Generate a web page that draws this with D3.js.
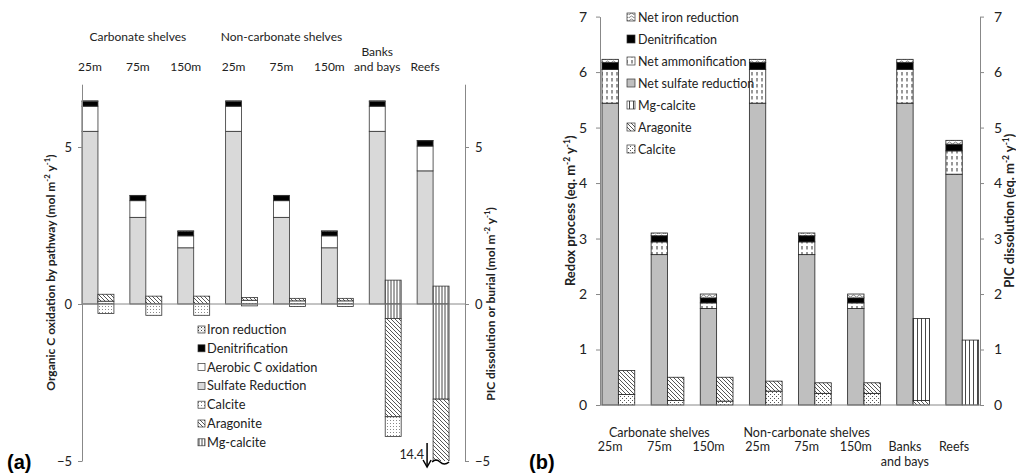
<!DOCTYPE html>
<html>
<head>
<meta charset="utf-8">
<script src="https://cdn.jsdelivr.net/npm/d3@7"></script>
<style>
  body { margin: 0; background: #fff; }
  svg { font-family: Lato, "Liberation Sans", sans-serif; }
</style>
</head>
<body>
<svg id="chart" width="1016" height="473"></svg>
<script>
// categories shared by both panels
const categories = ["25m", "75m", "150m", "25m", "75m", "150m", "Banks and bays", "Reefs"];
const groupLabels = ["Carbonate shelves", "Non-carbonate shelves"];

// panel (a) organic C oxidation, mol m-2 y-1
const aSulfate = [5.5, 2.76, 1.79, 5.5, 2.76, 1.79, 5.5, 4.24];
const aAerobic = [0.8, 0.53, 0.38, 0.8, 0.53, 0.38, 0.8, 0.79];
const aDenit = [0.16, 0.16, 0.15, 0.16, 0.16, 0.15, 0.16, 0.17];
const aIron = [0.01, 0.01, 0.01, 0.01, 0.01, 0.01, 0.01, 0.01];
// panel (a) PIC dissolution (positive) and burial (negative)
const aCalciteDiss = [0.09, 0, 0, 0.12, 0.1, 0.1, 0, 0];
const aAragoniteDiss = [0.22, 0.25, 0.25, 0.09, 0.08, 0.08, 0, 0];
const aMgDiss = [0, 0, 0, 0, 0, 0, 0.76, 0.57];
const aMgBur = [0, 0, 0, 0, 0, 0, -0.46, -3.03];
const aAragoniteBur = [0, 0, 0, 0, 0, 0, -3.13, -11.37];
const aCalciteBur = [-0.3, -0.36, -0.36, -0.06, -0.08, -0.08, -0.63, 0];
const aReefTotal = "14.4";

// panel (b) redox processes, eq. m-2 y-1
const bSulfate = [5.44, 2.71, 1.74, 5.44, 2.71, 1.74, 5.44, 4.16];
const bAmmon = [0.61, 0.23, 0.10, 0.61, 0.23, 0.10, 0.61, 0.42];
const bDenit = [0.12, 0.11, 0.09, 0.12, 0.11, 0.09, 0.12, 0.12];
const bIron = [0.06, 0.05, 0.07, 0.06, 0.05, 0.07, 0.06, 0.07];
// panel (b) PIC dissolution
const bCalcite = [0.19, 0.08, 0.07, 0.25, 0.21, 0.21, 0, 0];
const bAragonite = [0.43, 0.42, 0.43, 0.18, 0.19, 0.19, 0.08, 0];
const bMg = [0, 0, 0, 0, 0, 0, 1.48, 1.17];

const aTicks = [-5, 0, 5];
const bTicks = [0, 1, 2, 3, 4, 5, 6, 7];

const svg = d3.select("#chart");
const defs = svg.append("defs");

// fill patterns (Excel-like)
function pattern(id, w, h, draw) {
  const p = defs.append("pattern").attr("id", id)
    .attr("patternUnits", "userSpaceOnUse").attr("width", w).attr("height", h);
  p.append("rect").attr("width", w).attr("height", h).attr("fill", "#fff");
  draw(p);
}
pattern("calcite", 3, 3, p => {
  p.append("rect").attr("x", 0).attr("y", 0).attr("width", 1).attr("height", 1).attr("fill", "#888");
});
pattern("calciteB", 4, 4, p => {
  p.append("rect").attr("x", 0).attr("y", 0).attr("width", 1).attr("height", 1).attr("fill", "#555");
  p.append("rect").attr("x", 2).attr("y", 2).attr("width", 1).attr("height", 1).attr("fill", "#555");
});
pattern("aragonite", 4, 4, p => {
  p.append("path").attr("d", "M-1,-1L5,5M-1,3L1,5M3,-1L5,1")
    .attr("stroke", "#444").attr("stroke-width", 0.9);
});
pattern("mgcalcite", 3, 3, p => {
  p.append("line").attr("x1", 1).attr("x2", 1).attr("y1", 0).attr("y2", 3)
    .attr("stroke", "#333").attr("stroke-width", 0.9);
});
pattern("mgcalciteB", 4, 4, p => {
  p.append("line").attr("x1", 1.5).attr("x2", 1.5).attr("y1", 0).attr("y2", 4)
    .attr("stroke", "#333").attr("stroke-width", 0.9);
});
pattern("ironA", 3, 3, p => {
  p.append("rect").attr("width", 1).attr("height", 1).attr("fill", "#444");
  p.append("rect").attr("x", 1.5).attr("y", 1.5).attr("width", 1).attr("height", 1).attr("fill", "#999");
});
pattern("ironB", 6, 3, p => {
  p.append("path").attr("d", "M0,2Q1.5,0 3,2T6,2").attr("fill", "none")
    .attr("stroke", "#666").attr("stroke-width", 0.8);
});
pattern("ammon", 5, 6, p => {
  p.append("line").attr("x1", 2).attr("x2", 2).attr("y1", 0).attr("y2", 3.5)
    .attr("stroke", "#333").attr("stroke-width", 1);
});

const fmtFont = (sel, size) => sel.attr("font-size", size).attr("fill", "#222");

function stackRows(series, keys) {
  return categories.map((c, i) => {
    const row = { i: i };
    keys.forEach((k, j) => row[k] = series[j][i]);
    return row;
  });
}

function styleAxis(a, size) {
  a.select(".domain").attr("stroke", "#888");
  a.selectAll(".tick line").attr("stroke", "#888");
  a.selectAll(".tick text").attr("font-size", size).attr("fill", "#222").attr("font-family", "Lato");
}

function vTitle(g, x, y, parts, size) {
  const t = g.append("text").attr("transform", `translate(${x},${y}) rotate(-90)`)
    .attr("text-anchor", "middle").attr("font-weight", "bold").attr("font-size", size).attr("fill", "#222");
  parts.forEach(p => {
    const ts = t.append("tspan").text(p[0]);
    if (p[1]) ts.attr("baseline-shift", "super").attr("font-size", size * 0.65);
  });
}

// ---------------- panel (a) ----------------
const xA = d3.scaleBand().domain(d3.range(categories.length)).range([82, 465]);
const yA = d3.scaleLinear().domain([-5, 7]).range([461, 84.2]);
const wA = xA.bandwidth() / 3;

const gA = svg.append("g");

// organic bars
const orgKeysA = ["sulfate", "aerobic", "denit", "iron"];
const orgFillA = { sulfate: "#d9d9d9", aerobic: "#fff", denit: "#000", iron: "url(#ironA)" };
const orgStackA = d3.stack().keys(orgKeysA)(stackRows([aSulfate, aAerobic, aDenit, aIron], orgKeysA));
orgStackA.forEach(s => {
  gA.selectAll(null).data(s).join("rect")
    .attr("x", d => xA(d.data.i))
    .attr("width", wA)
    .attr("y", d => yA(d[1]))
    .attr("height", d => yA(d[0]) - yA(d[1]))
    .attr("fill", orgFillA[s.key])
    .attr("stroke", "#333").attr("stroke-width", 0.8);
});

// PIC bars, clipped to the axis range
gA.append("clipPath").attr("id", "clipA").append("rect")
  .attr("x", 82).attr("y", yA(7)).attr("width", 383).attr("height", yA(-5) - yA(7));
const picA = gA.append("g").attr("clip-path", "url(#clipA)");
const picFillA = { calcite: "url(#calcite)", aragonite: "url(#aragonite)", mg: "url(#mgcalcite)" };
const posKeys = ["calcite", "aragonite", "mg"];
const negKeys = ["mg", "aragonite", "calcite"];
const posStack = d3.stack().keys(posKeys)(stackRows([aCalciteDiss, aAragoniteDiss, aMgDiss], posKeys));
const negStack = d3.stack().keys(negKeys)(stackRows([aMgBur, aAragoniteBur, aCalciteBur], negKeys));
[...posStack, ...negStack].forEach(s => {
  picA.selectAll(null).data(s.filter(d => d[0] !== d[1])).join("rect")
    .attr("x", d => xA(d.data.i) + wA)
    .attr("width", wA)
    .attr("y", d => yA(Math.max(d[0], d[1])))
    .attr("height", d => Math.abs(yA(d[0]) - yA(d[1])))
    .attr("fill", picFillA[s.key])
    .attr("stroke", "#333").attr("stroke-width", 0.8);
});

// broken-bar marker for reefs
const reefX = xA(7) + wA;
gA.append("path")
  .attr("d", `M${reefX - 1},${yA(-5) + 1}q4,-4 8,0t9,0`)
  .attr("fill", "none").attr("stroke", "#000").attr("stroke-width", 1.5);
gA.append("line").attr("x1", reefX - 6).attr("x2", reefX - 6)
  .attr("y1", yA(-5) - 18).attr("y2", yA(-5) + 5)
  .attr("stroke", "#000").attr("stroke-width", 1.5);
gA.append("path")
  .attr("d", `M${reefX - 10},${yA(-5) - 1}L${reefX - 6},${yA(-5) + 6}L${reefX - 2},${yA(-5) - 1}`)
  .attr("fill", "none").attr("stroke", "#000").attr("stroke-width", 1.5);
gA.append("text").attr("x", reefX - 9).attr("y", yA(-5) - 2)
  .attr("text-anchor", "end").call(fmtFont, 12.5).text(aReefTotal);

// zero line and axes
gA.append("line").attr("x1", 82).attr("x2", 465).attr("y1", yA(0)).attr("y2", yA(0))
  .attr("stroke", "#888");
const axA1 = gA.append("g").attr("transform", "translate(82,0)")
  .call(d3.axisLeft(yA).tickValues(aTicks).tickFormat(d3.format("d")).tickSize(4).tickSizeOuter(0).tickPadding(6));
const axA2 = gA.append("g").attr("transform", "translate(465,0)")
  .call(d3.axisRight(yA).tickValues(aTicks).tickFormat(d3.format("d")).tickSize(4).tickSizeOuter(0).tickPadding(6));
styleAxis(axA1, 13);
styleAxis(axA2, 13);

// category labels on top
categories.forEach((c, i) => {
  const cx = xA(i) + wA / 2;
  const parts = c === "Banks and bays" ? ["Banks", "and bays"] : [c];
  parts.forEach((t, k) => {
    gA.append("text").attr("x", cx).attr("y", 71 - (parts.length - 1 - k) * 15)
      .attr("text-anchor", "middle").call(fmtFont, 12).text(t);
  });
});
groupLabels.forEach((g, k) => {
  const cx = (xA(k * 3) + xA(k * 3 + 2)) / 2 + wA / 2;
  gA.append("text").attr("x", cx).attr("y", 41).attr("text-anchor", "middle")
    .call(fmtFont, 12).text(g);
});

// axis titles
vTitle(gA, 55, (yA(-5) + yA(7)) / 2, [["Organic C oxidation by pathway (mol m"], ["-2", 1], [" y"], ["-1", 1], [")"]], 12);
vTitle(gA, 495, yA(0), [["PIC dissolution or burial (mol m"], ["-2", 1], [" y"], ["-1", 1], [")"]], 12);

// legend (a)
const legA = [
  ["Iron reduction", "url(#ironA)"], ["Denitrification", "#000"], ["Aerobic C oxidation", "#fff"],
  ["Sulfate Reduction", "#d9d9d9"], ["Calcite", "url(#calcite)"], ["Aragonite", "url(#aragonite)"],
  ["Mg-calcite", "url(#mgcalcite)"]
];
legA.forEach((d, k) => {
  const y = 330 + k * 18.8;
  gA.append("rect").attr("x", 198).attr("y", y - 4).attr("width", 7).attr("height", 7)
    .attr("fill", d[1]).attr("stroke", "#333").attr("stroke-width", 0.7);
  gA.append("text").attr("x", 207).attr("y", y + 4).call(fmtFont, 12.8).text(d[0]);
});

svg.append("text").attr("x", 7).attr("y", 469).attr("font-family", "Liberation Sans, Arial")
  .attr("font-weight", "bold").attr("font-size", 20).text("(a)");

// ---------------- panel (b) ----------------
const xB = d3.scaleBand().domain(d3.range(categories.length)).range([602, 995]);
const yB = d3.scaleLinear().domain([0, 7]).range([405, 16.6]);
const wB = xB.bandwidth() / 3;
const gB = svg.append("g");

const orgKeysB = ["sulfate", "ammon", "denit", "iron"];
const orgFillB = { sulfate: "#bfbfbf", ammon: "url(#ammon)", denit: "#000", iron: "url(#ironB)" };
const orgStackB = d3.stack().keys(orgKeysB)(stackRows([bSulfate, bAmmon, bDenit, bIron], orgKeysB));
orgStackB.forEach(s => {
  gB.selectAll(null).data(s).join("rect")
    .attr("x", d => xB(d.data.i))
    .attr("width", wB)
    .attr("y", d => yB(d[1]))
    .attr("height", d => yB(d[0]) - yB(d[1]))
    .attr("fill", orgFillB[s.key])
    .attr("stroke", "#222").attr("stroke-width", 0.8);
});

const picFillB = { calcite: "url(#calciteB)", aragonite: "url(#aragonite)", mg: "url(#mgcalciteB)" };
const picStackB = d3.stack().keys(posKeys)(stackRows([bCalcite, bAragonite, bMg], posKeys));
picStackB.forEach(s => {
  gB.selectAll(null).data(s.filter(d => d[0] !== d[1])).join("rect")
    .attr("x", d => xB(d.data.i) + wB)
    .attr("width", wB)
    .attr("y", d => yB(d[1]))
    .attr("height", d => yB(d[0]) - yB(d[1]))
    .attr("fill", picFillB[s.key])
    .attr("stroke", "#222").attr("stroke-width", 0.8);
});

gB.append("line").attr("x1", 600).attr("x2", 980).attr("y1", yB(0)).attr("y2", yB(0))
  .attr("stroke", "#888");
const axB1 = gB.append("g").attr("transform", "translate(600,0)")
  .call(d3.axisLeft(yB).tickValues(bTicks).tickFormat(d3.format("d")).tickSize(4).tickSizeOuter(0).tickPadding(9));
const axB2 = gB.append("g").attr("transform", "translate(980,0)")
  .call(d3.axisRight(yB).tickValues(bTicks).tickFormat(d3.format("d")).tickSize(4).tickSizeOuter(0).tickPadding(10));
styleAxis(axB1, 14);
styleAxis(axB2, 14);

categories.forEach((c, i) => {
  const cx = xB(i) + wB / 2;
  const parts = c === "Banks and bays" ? ["Banks", "and bays"] : [c];
  parts.forEach((t, k) => {
    gB.append("text").attr("x", cx).attr("y", 451 + k * 15)
      .attr("text-anchor", "middle").call(fmtFont, 12.5).text(t);
  });
});
groupLabels.forEach((g, k) => {
  const cx = (xB(k * 3) + xB(k * 3 + 2)) / 2 + wB / 2;
  gB.append("text").attr("x", cx).attr("y", 437).attr("text-anchor", "middle")
    .call(fmtFont, 12.5).text(g);
});

vTitle(gB, 575, (yB(0) + yB(7)) / 2, [["Redox process (eq. m"], ["-2", 1], [" y"], ["-1", 1], [")"]], 13);
vTitle(gB, 1014, (yB(0) + yB(7)) / 2, [["PIC dissolution (eq. m"], ["-2", 1], [" y"], ["-1", 1], [")"]], 13);

const legB = [
  ["Net iron reduction", "url(#ironB)"], ["Denitrification", "#000"], ["Net ammonification", "url(#ammon)"],
  ["Net sulfate reduction", "#bfbfbf"], ["Mg-calcite", "url(#mgcalciteB)"], ["Aragonite", "url(#aragonite)"],
  ["Calcite", "url(#calciteB)"]
];
legB.forEach((d, k) => {
  const y = 17 + k * 22;
  gB.append("rect").attr("x", 627).attr("y", y - 4).attr("width", 8).attr("height", 8)
    .attr("fill", d[1]).attr("stroke", "#333").attr("stroke-width", 0.7);
  gB.append("text").attr("x", 638).attr("y", y + 5).call(fmtFont, 12.5).text(d[0]);
});

svg.append("text").attr("x", 529).attr("y", 469).attr("font-family", "Liberation Sans, Arial")
  .attr("font-weight", "bold").attr("font-size", 20).text("(b)");
</script>
</body>
</html>
